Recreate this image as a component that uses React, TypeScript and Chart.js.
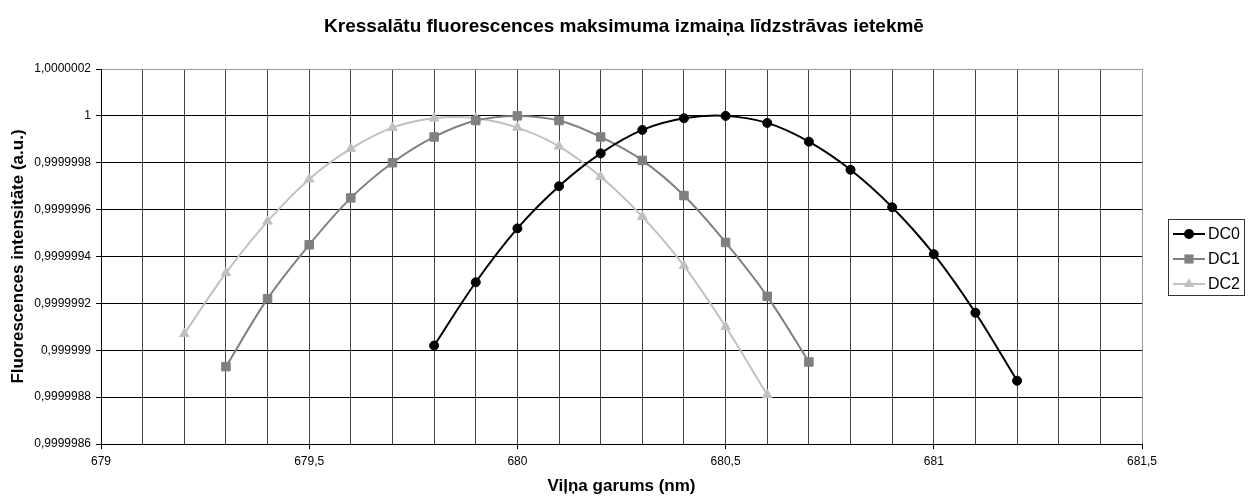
import { useEffect, useRef } from 'react';
import { Chart, registerables } from 'chart.js';

Chart.register(...registerables);

const CHART_TITLE = 'Kressalātu fluorescences maksimuma izmaiņa līdzstrāvas ietekmē';
const X_TITLE = 'Viļņa garums (nm)';
const Y_TITLE = 'Fluorescences intensitāte (a.u.)';

const SERIES_NAMES = ['DC0', 'DC1', 'DC2'];

const DC0_X = [679.8, 679.9, 680.0, 680.1, 680.2, 680.3, 680.4, 680.5, 680.6, 680.7, 680.8, 680.9, 681.0, 681.1, 681.2];
const DC0_Y = [0.99999902, 0.99999929, 0.99999952, 0.9999997, 0.99999984, 0.99999994, 0.99999999, 1.0, 0.99999997, 0.99999989, 0.99999977, 0.99999961, 0.99999941, 0.99999916, 0.99999887];

const DC1_X = [679.3, 679.4, 679.5, 679.6, 679.7, 679.8, 679.9, 680.0, 680.1, 680.2, 680.3, 680.4, 680.5, 680.6, 680.7];
const DC1_Y = [0.99999893, 0.99999922, 0.99999945, 0.99999965, 0.9999998, 0.99999991, 0.99999998, 1.0, 0.99999998, 0.99999991, 0.99999981, 0.99999966, 0.99999946, 0.99999923, 0.99999895];

const DC2_X = [679.2, 679.3, 679.4, 679.5, 679.6, 679.7, 679.8, 679.9, 680.0, 680.1, 680.2, 680.3, 680.4, 680.5, 680.6];
const DC2_Y = [0.99999907, 0.99999933, 0.99999955, 0.99999973, 0.99999986, 0.99999995, 0.99999999, 0.99999999, 0.99999995, 0.99999987, 0.99999974, 0.99999957, 0.99999936, 0.9999991, 0.99999881];

const X_MIN = 679;
const X_MAX = 681.5;
const X_STEP = 0.1;
const X_LABEL_STEP = 0.5;
const Y_MIN = 0.9999986;
const Y_MAX = 1.0000002;
const Y_STEP = 0.0000002;

const FONT = 'Arial, "Liberation Sans", sans-serif';

const toPoints = (xs: number[], ys: number[]) => xs.map((x, i) => ({ x, y: ys[i] }));

const isMajorX = (v: number) => {
  const r = Math.round(v / X_LABEL_STEP) * X_LABEL_STEP;
  return Math.abs(v - r) < 1e-6;
};

const fmtX = (v: number) => {
  const r = Math.round(v / X_LABEL_STEP) * X_LABEL_STEP;
  return String(r).replace('.', ',');
};

const fmtY = (v: number) =>
  v.toFixed(7).replace(/0+$/, '').replace(/\.$/, '').replace('.', ',');

function drawMarker(ctx: CanvasRenderingContext2D, style: string, x: number, y: number, r: number) {
  ctx.beginPath();
  if (style === 'circle') {
    ctx.arc(x, y, r, 0, Math.PI * 2);
  } else if (style === 'rect') {
    const s = Math.SQRT1_2 * r;
    ctx.rect(x - s, y - s, 2 * s, 2 * s);
  } else if (style === 'triangle') {
    let rad = 0;
    ctx.moveTo(x + Math.sin(rad) * r, y - Math.cos(rad) * r);
    rad += (2 * Math.PI) / 3;
    ctx.lineTo(x + Math.sin(rad) * r, y - Math.cos(rad) * r);
    rad += (2 * Math.PI) / 3;
    ctx.lineTo(x + Math.sin(rad) * r, y - Math.cos(rad) * r);
    ctx.closePath();
  }
  ctx.fill();
}

const decorPlugin = {
  id: 'decor',
  afterDraw(chart: any) {
    const ctx: CanvasRenderingContext2D = chart.ctx;
    ctx.save();
    // Title
    ctx.fillStyle = '#000';
    ctx.font = `bold 19px ${FONT}`;
    ctx.textAlign = 'center';
    ctx.textBaseline = 'middle';
    ctx.fillText(CHART_TITLE, 624, 27);

    // Legend
    const bx = 1168, by = 219, bw = 76, bh = 76;
    ctx.fillStyle = '#fff';
    ctx.fillRect(bx, by, bw, bh);
    ctx.strokeStyle = '#333';
    ctx.lineWidth = 1;
    ctx.strokeRect(bx + 0.5, by + 0.5, bw, bh);
    const rows = [234, 259, 284];
    chart.data.datasets.forEach((ds: any, i: number) => {
      const y = rows[i];
      ctx.strokeStyle = ds.borderColor;
      ctx.lineWidth = 2;
      ctx.beginPath();
      ctx.moveTo(1173, y);
      ctx.lineTo(1205, y);
      ctx.stroke();
      ctx.fillStyle = ds.pointBackgroundColor;
      drawMarker(ctx, ds.pointStyle, 1189, y, ds.pointRadius + 0.5);
      ctx.fillStyle = '#000';
      ctx.font = `16px ${FONT}`;
      ctx.textAlign = 'left';
      ctx.textBaseline = 'middle';
      ctx.fillText(ds.label, 1208, y + 1);
    });
    ctx.restore();
  },
};

export default function App() {
  const ref = useRef<HTMLCanvasElement | null>(null);

  useEffect(() => {
    if (!ref.current) return;
    const chart = new Chart(ref.current, {
      type: 'line',
      data: {
        datasets: [
          {
            label: SERIES_NAMES[0],
            data: toPoints(DC0_X, DC0_Y),
            borderColor: '#000000',
            backgroundColor: '#000000',
            pointBackgroundColor: '#000000',
            pointBorderColor: '#000000',
            pointStyle: 'circle',
            pointRadius: 4.5,
            pointBorderWidth: 1,
            borderWidth: 2,
            tension: 0.33,
          },
          {
            label: SERIES_NAMES[1],
            data: toPoints(DC1_X, DC1_Y),
            borderColor: '#808080',
            backgroundColor: '#808080',
            pointBackgroundColor: '#808080',
            pointBorderColor: '#808080',
            pointStyle: 'rect',
            pointRadius: 6,
            pointBorderWidth: 1,
            borderWidth: 2,
            tension: 0.33,
          },
          {
            label: SERIES_NAMES[2],
            data: toPoints(DC2_X, DC2_Y),
            borderColor: '#C0C0C0',
            backgroundColor: '#C0C0C0',
            pointBackgroundColor: '#C0C0C0',
            pointBorderColor: '#C0C0C0',
            pointStyle: 'triangle',
            pointRadius: 5.5,
            pointBorderWidth: 1,
            borderWidth: 2,
            tension: 0.33,
          },
        ],
      },
      options: {
        responsive: false,
        animation: false,
        layout: { padding: { top: 69, right: 108, bottom: 0, left: 0 } },
        plugins: {
          legend: { display: false },
          title: { display: false },
          tooltip: { enabled: false },
        },
        scales: {
          x: {
            type: 'linear',
            min: X_MIN,
            max: X_MAX,
            afterFit: (scale: any) => {
              scale.height = 54;
            },
            border: { display: true, color: '#000', width: 1 },
            grid: {
              color: (c: any) => (c.tick && Math.abs(c.tick.value - X_MAX) < 1e-6 ? '#999' : '#444'),
              lineWidth: 1,
              tickLength: 5,
              tickColor: (c: any) => (c.tick && isMajorX(c.tick.value) ? '#000' : 'rgba(0,0,0,0)'),
            },
            ticks: {
              stepSize: X_STEP,
              autoSkip: false,
              maxRotation: 0,
              minRotation: 0,
              padding: 5,
              color: '#000',
              font: { family: FONT, size: 12 },
              callback: (v: any) => (isMajorX(Number(v)) ? fmtX(Number(v)) : ''),
            },
            title: {
              display: true,
              text: X_TITLE,
              color: '#000',
              font: { family: FONT, size: 17, weight: 'bold' },
              padding: { top: 0, bottom: 1 },
            },
          },
          y: {
            type: 'linear',
            min: Y_MIN,
            max: Y_MAX,
            afterFit: (scale: any) => {
              scale.width = 101;
            },
            border: { display: true, color: '#000', width: 1 },
            grid: {
              color: (c: any) => (c.tick && Math.abs(c.tick.value - Y_MAX) < 1e-10 ? '#999' : '#000'),
              lineWidth: 1,
              tickLength: 5,
              tickColor: '#000',
            },
            ticks: {
              stepSize: Y_STEP,
              autoSkip: false,
              padding: 5,
              color: '#000',
              font: { family: FONT, size: 12 },
              callback: (v: any) => fmtY(Number(v)),
            },
            title: {
              display: true,
              text: Y_TITLE,
              color: '#000',
              font: { family: FONT, size: 17, weight: 'bold' },
              padding: { top: 8, bottom: 0 },
            },
          },
        },
      },
      plugins: [decorPlugin],
    } as any);
    return () => chart.destroy();
  }, []);

  return (
    <div style={{ position: 'absolute', left: 0, top: 0, width: 1250, height: 498, background: '#fff' }}>
      <canvas ref={ref} width={1250} height={498} style={{ display: 'block' }} />
    </div>
  );
}
